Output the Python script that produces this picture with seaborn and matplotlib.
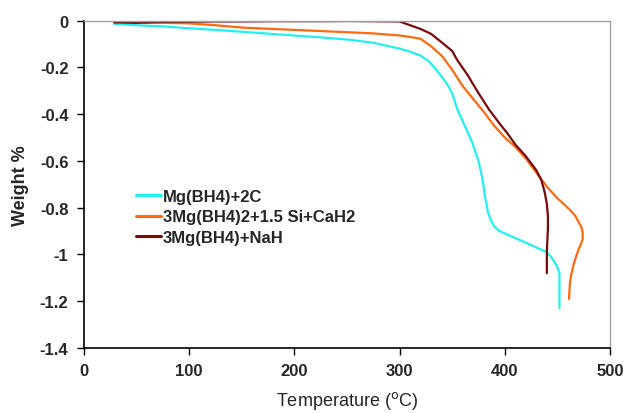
import numpy as np
import pandas as pd
import matplotlib
matplotlib.use("Agg")
import matplotlib.pyplot as plt
import seaborn as sns

# Series 1: Mg(BH4)+2C
t1 = [29, 50, 75, 100, 125, 150, 175, 200, 225, 250, 275, 300, 310, 320, 328, 335, 340, 345, 350, 355, 360, 365, 369, 372, 375, 378, 380, 381, 383, 384, 387, 390, 395, 400, 405, 410, 415, 420, 425, 430, 435, 440, 444, 447, 450, 452, 452, 452]
w1 = [-0.015, -0.02, -0.025, -0.033, -0.04, -0.048, -0.056, -0.064, -0.072, -0.081, -0.095, -0.12, -0.133, -0.15, -0.175, -0.21, -0.24, -0.27, -0.31, -0.38, -0.43, -0.48, -0.52, -0.56, -0.60, -0.66, -0.71, -0.75, -0.79, -0.82, -0.855, -0.88, -0.90, -0.91, -0.92, -0.93, -0.94, -0.95, -0.96, -0.97, -0.98, -0.99, -1.01, -1.03, -1.055, -1.08, -1.15, -1.23]

# Series 2: 3Mg(BH4)2+1.5 Si+CaH2
t2 = [29, 50, 75, 100, 125, 150, 175, 200, 225, 250, 275, 300, 310, 320, 330, 340, 350, 360, 370, 380, 390, 400, 410, 420, 430, 440, 450, 455, 462, 467, 470, 473, 474, 474, 472, 470, 467, 465, 463, 462, 461]
w2 = [-0.01, -0.008, -0.01, -0.012, -0.02, -0.03, -0.035, -0.04, -0.045, -0.05, -0.055, -0.064, -0.07, -0.078, -0.11, -0.15, -0.21, -0.28, -0.335, -0.39, -0.45, -0.50, -0.54, -0.59, -0.65, -0.71, -0.76, -0.78, -0.81, -0.835, -0.86, -0.885, -0.905, -0.935, -0.96, -0.98, -1.02, -1.05, -1.09, -1.12, -1.19]

# Series 3: 3Mg(BH4)+NaH
t3 = [29, 50, 75, 100, 125, 150, 175, 200, 225, 250, 275, 300, 310, 320, 330, 340, 350, 355, 365, 375, 385, 395, 403, 410, 420, 430, 435, 438, 440, 441, 441, 440, 440]
w3 = [-0.007, -0.01, -0.006, -0.005, -0.004, -0.004, -0.003, -0.003, -0.003, -0.002, -0.003, -0.004, -0.02, -0.036, -0.057, -0.093, -0.13, -0.17, -0.235, -0.31, -0.38, -0.44, -0.485, -0.53, -0.58, -0.64, -0.685, -0.735, -0.785, -0.834, -0.89, -0.99, -1.08]

labels = ["Mg(BH4)+2C", "3Mg(BH4)2+1.5 Si+CaH2", "3Mg(BH4)+NaH"]
colors = ["#22F0F0", "#FF6A10", "#7A0A0A"]

x_ticks = [0, 100, 200, 300, 400, 500]
y_ticks = [0, -0.2, -0.4, -0.6, -0.8, -1, -1.2, -1.4]

sns.set_style("white")
plt.rcParams["font.family"] = ["Liberation Sans", "DejaVu Sans"]

fig = plt.figure(figsize=(6.25, 4.14), dpi=100)
ax = fig.add_axes([0.134, 0.157, 0.842, 0.791])

frames = []
for lab, t, w in zip(labels, [t1, t2, t3], [w1, w2, w3]):
    frames.append(pd.DataFrame({"T": t, "W": w, "series": lab}))
df = pd.concat(frames, ignore_index=True)

sns.lineplot(data=df, x="T", y="W", hue="series", hue_order=labels,
             palette=colors, sort=False, estimator=None, units="series",
             linewidth=1.6, ax=ax, legend=True)

ax.set_xlim(0, 500)
ax.set_ylim(-1.4, 0)
ax.set_xticks(x_ticks)
ax.set_yticks(y_ticks)
ax.set_xticklabels([str(v) for v in x_ticks], fontsize=12, fontweight="bold")
ax.set_yticklabels(["0" if v == 0 else f"{v:g}" for v in y_ticks], fontsize=12, fontweight="bold")
ax.tick_params(axis="both", direction="out", length=5, width=1, color="black", bottom=True, left=True, pad=6)
ax.set_xlabel("Temperature ($^{\\rm o}$C)", fontsize=13, labelpad=8)
ax.set_ylabel("Weight %", fontsize=13, fontweight="bold", labelpad=8)

for s in ["left", "bottom"]:
    ax.spines[s].set_color("black")
    ax.spines[s].set_linewidth(1.2)
for s in ["top", "right"]:
    ax.spines[s].set_color("#A0A0A0")
    ax.spines[s].set_linewidth(1.0)

leg = ax.legend(loc="upper left", bbox_to_anchor=(0.10, 0.487), frameon=False,
                prop={"size": 12, "weight": "bold"}, handlelength=1.5,
                handletextpad=0.1, labelspacing=0.35, borderaxespad=0,
                borderpad=0)
for h in leg.get_lines():
    h.set_linewidth(2.2)

fig.savefig("out.png", dpi=100)
